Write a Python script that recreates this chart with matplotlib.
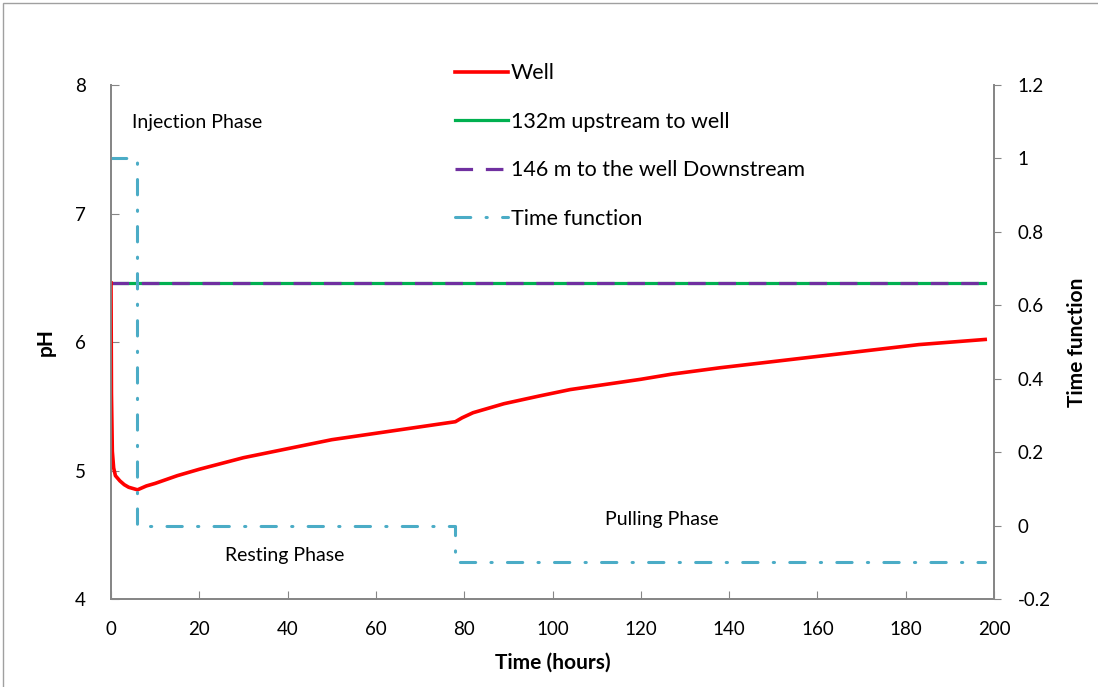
import matplotlib.pyplot as plt
from matplotlib.patches import Rectangle

plt.rcParams['font.family'] = ['Lato', 'DejaVu Sans']

# pH at the well
t_well = [0, 0.1, 0.3, 0.6, 1, 2, 3, 4, 5, 6, 8, 10, 15, 20, 30, 40, 50, 60, 70, 78,
          79.5, 82, 89, 97, 104, 112, 120, 127, 138, 153, 168, 183, 198]
ph_well = [6.46, 5.6, 5.15, 5.02, 4.96, 4.92, 4.89, 4.87, 4.86, 4.85, 4.88, 4.90, 4.96,
           5.01, 5.10, 5.17, 5.24, 5.29, 5.34, 5.38, 5.41, 5.45, 5.52, 5.58, 5.63, 5.67,
           5.71, 5.75, 5.80, 5.86, 5.92, 5.98, 6.02]

t_obs = [0, 198]
ph_upstream = [6.46, 6.46]
ph_downstream = [6.46, 6.46]

t_func = [0, 6, 6, 78, 78, 198]
func = [1, 1, 0, 0, -0.1, -0.1]

grey = '#868686'
fig = plt.figure(figsize=(10.98, 6.87), dpi=100)
ax = fig.add_axes([0.1011, 0.128, 0.8042, 0.7483])
ax2 = ax.twinx()

l1, = ax.plot(t_well, ph_well, color='#FF0000', lw=2.6, label='Well', zorder=3)
l2, = ax.plot(t_obs, ph_upstream, color='#00B050', lw=2.3, label='132m upstream to well')
l3, = ax.plot(t_obs, ph_downstream, color='#7030A0', lw=2.3, dashes=(5.5, 4),
              label='146 m to the well Downstream')
l4, = ax2.plot(t_func, func, color='#4BACC6', lw=2.2, dashes=(5, 5, 0.4, 5),
               dash_capstyle='round', label='Time function')

ax.set_xlim(0, 200)
ax.set_ylim(4, 8)
ax2.set_ylim(-0.2, 1.2)
ax.set_xticks(range(0, 201, 20))
ax.set_yticks([4, 5, 6, 7, 8])
ax2.set_yticks([-0.2, 0, 0.2, 0.4, 0.6, 0.8, 1, 1.2])
ax2.set_yticklabels(['-0.2', '0', '0.2', '0.4', '0.6', '0.8', '1', '1.2'])

for a in (ax, ax2):
    a.spines['top'].set_visible(False)
    for s in ('left', 'right', 'bottom'):
        a.spines[s].set_color(grey)
        a.spines[s].set_linewidth(1.3)
ax.tick_params(axis='x', direction='in', length=6, color=grey, labelsize=13.5, pad=16)
ax.tick_params(axis='y', direction='in', length=6, color=grey, labelsize=13.5, pad=18)
ax2.tick_params(axis='y', direction='out', length=5, color=grey, labelsize=13.5, pad=12)

ax.set_xlabel('Time (hours)', fontsize=15, fontweight='bold', labelpad=10)
ax.set_ylabel('pH', fontsize=15, fontweight='bold', labelpad=14)
ax2.set_ylabel('Time function', fontsize=15, fontweight='bold', labelpad=12)

ax.text(4.8, 7.71, 'Injection Phase', fontsize=14, va='center')
ax.text(25.8, 4.34, 'Resting Phase', fontsize=14, va='center')
ax.text(112, 4.62, 'Pulling Phase', fontsize=14, va='center')

fig.legend(handles=[l1, l2, l3, l4], loc='upper left', bbox_to_anchor=(0.399, 0.933),
           frameon=False, fontsize=15.5, handlelength=2.45, handletextpad=0.12,
           labelspacing=1.32, borderpad=0.3)

fig.patches.append(Rectangle((3 / 1098, -0.1), 1.2, 1 - 3 / 687 + 0.1, transform=fig.transFigure,
                             fill=False, edgecolor='#A0A0A0', lw=1))

fig.savefig('out.png', dpi=100)
